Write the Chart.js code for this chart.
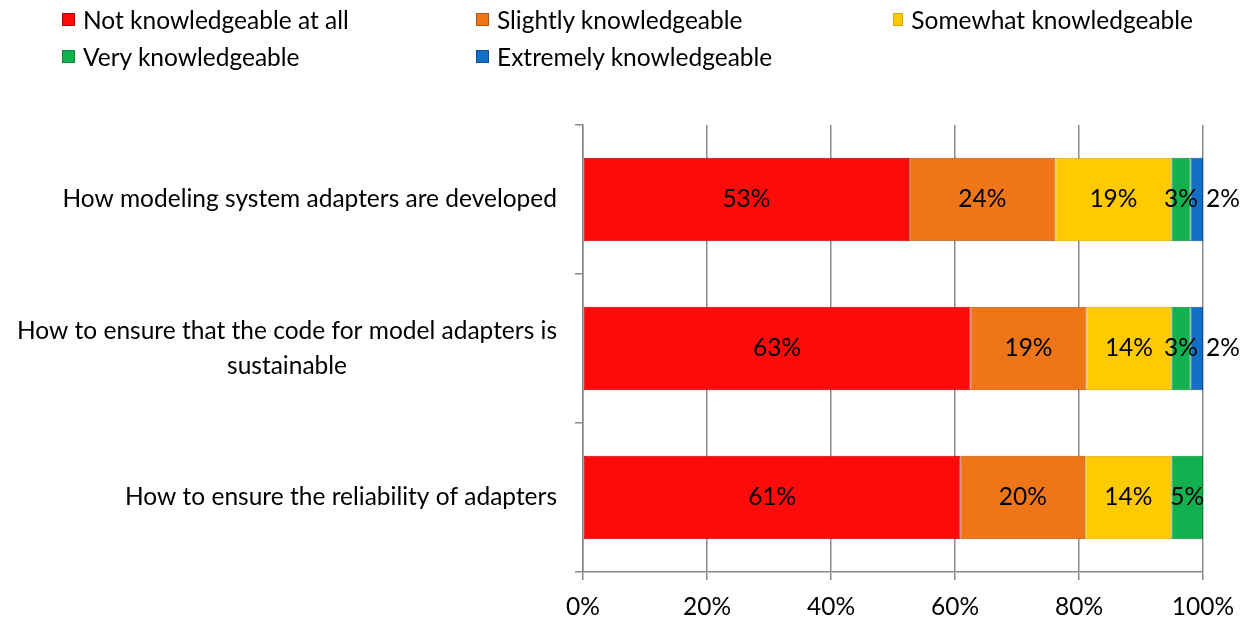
<!DOCTYPE html>
<html>
<head>
<meta charset="utf-8">
<script src="https://cdn.jsdelivr.net/npm/chart.js@4"></script>
<style>
  body { margin: 0; background: #fff; }
  #wrap { position: relative; width: 1250px; height: 619px; }
  #legend {
    position: absolute; left: 62px; top: 5px;
    display: grid; grid-template-columns: 414px 417px 300px;
    row-gap: 8px;
    font-family: Lato, sans-serif; font-size: 24.5px; color: #000;
  }
  .item { display: flex; align-items: center; height: 29px; white-space: nowrap; }
  .box { width: 13px; height: 13px; margin-right: 8px; box-sizing: border-box; }
</style>
</head>
<body>
<div id="wrap">
  <canvas id="chart" width="1250" height="619"></canvas>
  <div id="legend"></div>
</div>
<script>
const categories = [
    ['How modeling system adapters are developed'],
    ['How to ensure that the code for model adapters is', 'sustainable'],
    ['How to ensure the reliability of adapters']
];
const seriesNames = ['Not knowledgeable at all', 'Slightly knowledgeable', 'Somewhat knowledgeable', 'Very knowledgeable', 'Extremely knowledgeable'];
const notAtAll = [52.6, 62.5, 60.9];
const slightly = [23.6, 18.7, 20.1];
const somewhat = [18.7, 13.7, 13.9];
const very = [3.1, 3.1, 5.1];
const extremely = [2.0, 2.0, 0];
const xTicks = [0, 20, 40, 60, 80, 100];

const colors = ['#fe0a0a', '#ef7618', '#ffcb00', '#13b04f', '#1470c6'];
const borders = ['#c00000', '#b8560c', '#d9a800', '#0c8a3c', '#0c4f96'];
const FONT = 'Lato, sans-serif';
const FSIZE = 24.5;

// labels inside each segment, the last series goes outside the bar
const dataLabels = {
    id: 'dataLabels',
    afterDatasetsDraw(chart) {
        const ctx = chart.ctx;
        ctx.save();
        ctx.font = FSIZE + 'px ' + FONT;
        ctx.fillStyle = '#000';
        ctx.textBaseline = 'middle';
        const last = chart.data.datasets.length - 1;
        chart.data.datasets.forEach(function (ds, di) {
            const meta = chart.getDatasetMeta(di);
            meta.data.forEach(function (el, i) {
                const v = ds.data[i];
                if (!v) return;
                const txt = Math.round(v) + '%';
                if (di === last) {
                    ctx.textAlign = 'left';
                    ctx.fillText(txt, el.x + 3, el.y);
                } else {
                    ctx.textAlign = 'center';
                    ctx.fillText(txt, (el.x + el.base) / 2, el.y);
                }
            });
        });
        ctx.restore();
    }
};

// category labels: block right aligned, lines centred inside the block
const catLabels = {
    id: 'catLabels',
    afterDraw(chart) {
        const ctx = chart.ctx;
        const yScale = chart.scales.y;
        ctx.save();
        ctx.font = FSIZE + 'px ' + FONT;
        ctx.fillStyle = '#000';
        ctx.textBaseline = 'middle';
        ctx.textAlign = 'center';
        const right = chart.chartArea.left - 26;
        const lh = 35;
        chart.data.labels.forEach(function (lines, i) {
            const y = yScale.getPixelForValue(i);
            let w = 0;
            lines.forEach(function (l) { w = Math.max(w, ctx.measureText(l).width); });
            const cx = right - w / 2;
            const y0 = y - (lines.length - 1) * lh / 2;
            lines.forEach(function (l, k) { ctx.fillText(l, cx, y0 + k * lh); });
        });
        ctx.restore();
    }
};

const series = [notAtAll, slightly, somewhat, very, extremely];
const datasets = series.map(function (vals, i) {
    return {
        label: seriesNames[i],
        data: vals,
        backgroundColor: colors[i],
        borderColor: borders[i],
        borderWidth: 1,
        borderSkipped: false,
        barPercentage: 0.56,
        categoryPercentage: 1
    };
});

const ctx = document.getElementById('chart').getContext('2d');
const myChart = new Chart(ctx, {
    type: 'bar',
    data: { labels: categories, datasets: datasets },
    options: {
        indexAxis: 'y',
        responsive: false,
        animation: false,
        layout: { padding: { top: 125, right: 47, left: 0, bottom: 0 } },
        scales: {
            x: {
                stacked: true,
                min: xTicks[0],
                max: xTicks[xTicks.length - 1],
                afterBuildTicks: function (scale) {
                    scale.ticks = xTicks.map(function (v) { return { value: v }; });
                },
                afterFit: function (scale) { scale.height = 47; },
                grid: { color: '#8a8a8a', lineWidth: 1.5, tickLength: 8 },
                border: { color: '#8a8a8a', width: 1.5 },
                ticks: {
                    color: '#000',
                    padding: 12,
                    font: { family: FONT, size: FSIZE },
                    callback: function (v) { return v + '%'; }
                }
            },
            y: {
                stacked: true,
                afterFit: function (scale) { scale.width = 583; },
                grid: { offset: true, drawOnChartArea: false, color: '#8a8a8a', lineWidth: 1.5, tickLength: 8 },
                border: { color: '#8a8a8a', width: 1.5 },
                ticks: { display: false }
            }
        },
        plugins: {
            legend: { display: false },
            tooltip: { enabled: false }
        }
    },
    plugins: [dataLabels, catLabels]
});

// legend in fixed columns like the original
const legendEl = document.getElementById('legend');
myChart.data.datasets.forEach(function (ds) {
    const item = document.createElement('div');
    item.className = 'item';
    const box = document.createElement('span');
    box.className = 'box';
    box.style.background = ds.backgroundColor;
    box.style.border = '1px solid ' + ds.borderColor;
    const txt = document.createElement('span');
    txt.textContent = ds.label;
    item.appendChild(box);
    item.appendChild(txt);
    legendEl.appendChild(item);
});
</script>
</body>
</html>
